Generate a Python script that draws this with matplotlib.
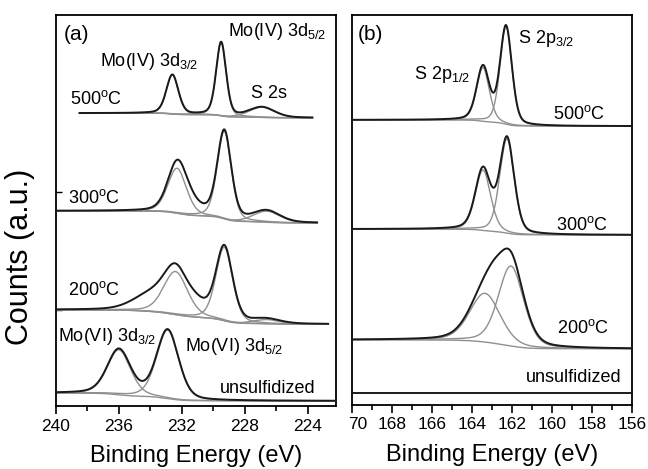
import numpy as np
import matplotlib
matplotlib.use("Agg")
import matplotlib.pyplot as plt
from matplotlib.ticker import MultipleLocator
from matplotlib.transforms import ScaledTranslation

plt.rcParams['font.family'] = ['Liberation Sans', 'DejaVu Sans']
plt.rcParams['mathtext.fontset'] = 'custom'
plt.rcParams['mathtext.rm'] = 'Liberation Sans'
plt.rcParams['mathtext.it'] = 'Liberation Sans:italic'

# ---- panel (a): Mo 3d region ----
# peaks: (centre eV, height a.u., fwhm eV)
mo_range = [(223.7, 238.5), (223.4, 240.0), (222.7, 240.0), (222.0, 240.0)]
mo_low = [73.7, 46.8, 20.9, 1.3]
mo_step = [1.2, 3.1, 3.7, 2.0]
mo_peaks = [
    [(232.6, 10.0, 0.9), (229.5, 18.8, 0.75), (226.9, 2.6, 1.9)],
    [(232.3, 11.5, 1.4), (229.3, 22.4, 1.05), (226.6, 2.85, 2.0)],
    [(232.4, 11.0, 1.8), (229.3, 18.8, 1.25), (226.6, 1.1, 2.0)],
    [(236.0, 11.5, 1.75), (232.9, 17.5, 1.65)],
]
# components not drawn in grey but part of the envelope
mo_hidden = [[], [(231.6, 2.8, 2.0)], [(234.0, 4.0, 2.6), (231.0, 2.5, 1.6)], []]

# ---- panel (b): S 2p region ----
s_range = [(156.0, 170.0)] * 4
s_low = [71.5, 43.6, 14.4, 3.1]
s_step = [1.6, 1.5, 2.3, 0.0]
s_peaks = [
    [(163.45, 13.8, 0.75), (162.3, 25.0, 0.7)],
    [(163.45, 15.5, 0.9), (162.25, 24.2, 0.85)],
    [(163.35, 12.5, 1.8), (162.05, 20.5, 1.5)],
    [],
]
s_hidden = [[], [], [(162.9, 2.5, 1.0)], []]

mo_ticks = [240, 236, 232, 228, 224]
s_ticks = [170, 168, 166, 164, 162, 160, 158, 156]
s_ticklabels = ['70', '168', '166', '164', '162', '160', '158', '156']


def gl(e, c, h, w, eta=0.3):
    x = (e - c) / (w / 2)
    return h * ((1 - eta) * np.exp(-np.log(2) * x ** 2) + eta / (1 + x ** 2))


def spectrum(rng, peaks, hidden, low, step):
    e = np.linspace(rng[0], rng[1], 800)
    comps = [gl(e, *p) for p in peaks]
    sig = np.zeros_like(e)
    for c in comps:
        sig += c
    for p in hidden:
        sig += gl(e, *p)
    if sig.sum() > 0:
        # shirley-like step background
        cum = np.concatenate([[0], np.cumsum((sig[1:] + sig[:-1]) / 2)])
        bg = low + step * cum / cum[-1]
    else:
        bg = np.full_like(e, low)
    return e, bg, comps, bg + sig


def draw(ax, ranges, peaks, hidden, lows, steps):
    for i in range(len(ranges)):
        e, bg, comps, tot = spectrum(ranges[i], peaks[i], hidden[i], lows[i], steps[i])
        if peaks[i]:
            ax.plot(e, bg, color='#8f8f8f', lw=1.0, zorder=2)
            for c in comps:
                ax.plot(e, bg + c, color='#8f8f8f', lw=1.0, zorder=2)
        ax.plot(e, tot, color='#1a1a1a', lw=1.4, zorder=3)


fig = plt.figure(figsize=(6.48, 4.69), dpi=100)
ax1 = fig.add_axes([0.0864, 0.1343, 0.4321, 0.8337])
ax2 = fig.add_axes([0.5432, 0.1365, 0.4321, 0.8315])

draw(ax1, mo_range, mo_peaks, mo_hidden, mo_low, mo_step)
draw(ax2, s_range, s_peaks, s_hidden, s_low, s_step)

ax1.set_xlim(240, 222.2)
ax2.set_xlim(170, 156)
for ax in (ax1, ax2):
    ax.set_ylim(0, 100)
    for sp in ax.spines.values():
        sp.set_linewidth(1.3)
    ax.tick_params(axis='x', direction='out', length=6, width=1.2, labelsize=12.5, pad=3)
    ax.tick_params(axis='x', which='minor', direction='out', length=3.5, width=1.2)
    ax.set_xlabel('Binding Energy (eV)', fontsize=17, labelpad=8)

ax1.set_xticks(mo_ticks)
ax1.xaxis.set_minor_locator(MultipleLocator(2))
ax1.set_yticks([24.6, 54.7])
ax1.set_yticklabels([])
ax1.tick_params(axis='y', direction='in', length=4, width=1.0)

ax2.set_xticks(s_ticks)
ax2.set_xticklabels(s_ticklabels)
ax2.xaxis.set_minor_locator(MultipleLocator(1))
ax2.set_yticks([])
lab0 = ax2.get_xticklabels()[0]
lab0.set_transform(lab0.get_transform() + ScaledTranslation(4 / 72, 0, fig.dpi_scale_trans))

fs = 13
deg = '$^{\\mathrm{o}}$C'
ax1.text(238.67, 95.1, '(a)', fontsize=15, ha='center', va='center')
ax1.text(237.2, 87.0, 'Mo(IV) 3d$_{\\mathrm{3/2}}$', fontsize=fs)
ax1.text(229.08, 94.6, 'Mo(IV) 3d$_{\\mathrm{5/2}}$', fontsize=fs)
ax1.text(227.6, 78.8, 'S 2s', fontsize=fs)
ax1.text(239.1, 77.2, '500' + deg, fontsize=fs)
ax1.text(239.24, 51.9, '300' + deg, fontsize=fs)
ax1.text(239.24, 28.4, '200' + deg, fontsize=fs)
ax1.text(239.87, 16.6, 'Mo(VI) 3d$_{\\mathrm{3/2}}$', fontsize=fs)
ax1.text(231.8, 14.1, 'Mo(VI) 3d$_{\\mathrm{5/2}}$', fontsize=fs)
ax1.text(229.6, 3.4, 'unsulfidized', fontsize=fs)

ax2.text(169.1, 95.1, '(b)', fontsize=15, ha='center', va='center')
ax2.text(166.9, 83.6, 'S 2p$_{\\mathrm{1/2}}$', fontsize=fs)
ax2.text(161.7, 92.8, 'S 2p$_{\\mathrm{3/2}}$', fontsize=fs)
ax2.text(159.95, 73.3, '500' + deg, fontsize=fs)
ax2.text(159.8, 44.9, '300' + deg, fontsize=fs)
ax2.text(159.75, 18.5, '200' + deg, fontsize=fs)
ax2.text(161.3, 5.9, 'unsulfidized', fontsize=fs)

fig.text(0.031, 0.452, 'Counts (a.u.)', rotation=90, ha='center', va='center', fontsize=22)

fig.savefig('out.png', dpi=100)
